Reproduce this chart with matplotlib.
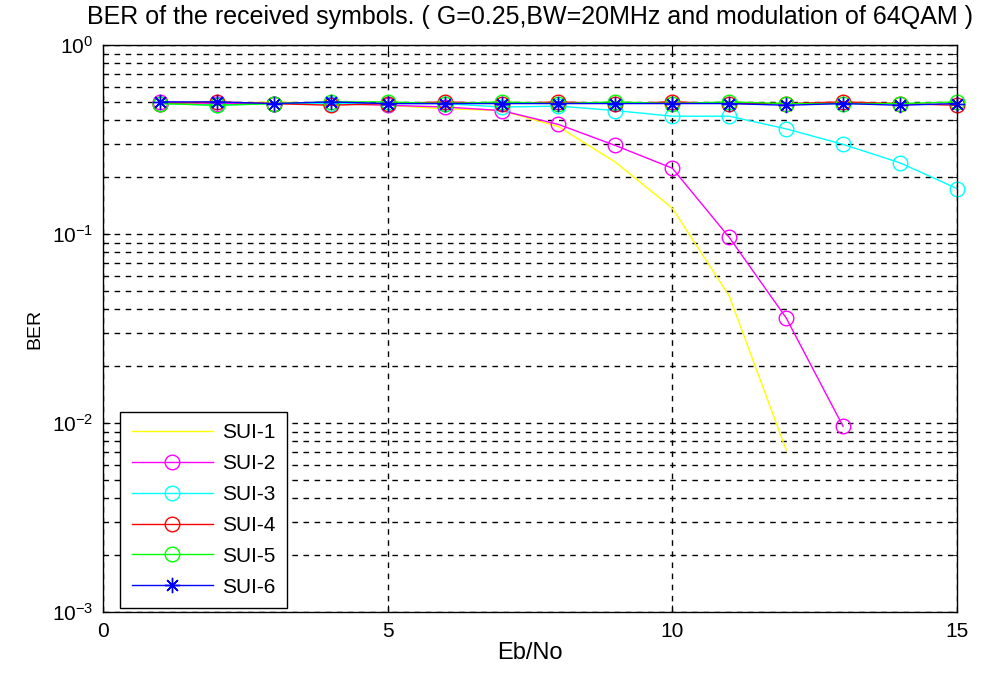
import numpy as np
import matplotlib
matplotlib.use('Agg')
import matplotlib.pyplot as plt
from matplotlib.ticker import LogLocator, NullFormatter

plt.rcParams['font.family'] = ['Liberation Sans', 'DejaVu Sans']
plt.rcParams['mathtext.fontset'] = 'custom'
plt.rcParams['mathtext.rm'] = 'Liberation Sans'

# BER readings per channel model, Eb/No in dB
ebno1 = [1, 2, 3, 4, 5, 6, 7, 8, 9, 10, 11, 12]
sui1 = [0.50, 0.49, 0.50, 0.49, 0.48, 0.46, 0.45, 0.37, 0.24, 0.137, 0.047, 0.0072]

ebno2 = [1, 2, 3, 4, 5, 6, 7, 8, 9, 10, 11, 12, 13]
sui2 = [0.50, 0.49, 0.49, 0.49, 0.48, 0.47, 0.45, 0.38, 0.294, 0.223, 0.096, 0.036, 0.0096]

ebno = [1, 2, 3, 4, 5, 6, 7, 8, 9, 10, 11, 12, 13, 14, 15]
sui3 = [0.49, 0.48, 0.49, 0.49, 0.49, 0.49, 0.47, 0.475, 0.45, 0.42, 0.42, 0.36, 0.298, 0.238, 0.174]
sui4 = [0.49, 0.50, 0.49, 0.48, 0.49, 0.50, 0.49, 0.50, 0.49, 0.50, 0.49, 0.49, 0.50, 0.49, 0.48]
sui5 = [0.49, 0.48, 0.49, 0.50, 0.50, 0.49, 0.50, 0.49, 0.50, 0.49, 0.50, 0.49, 0.49, 0.49, 0.50]
sui6 = [0.50, 0.50, 0.49, 0.50, 0.49, 0.49, 0.49, 0.49, 0.49, 0.49, 0.49, 0.48, 0.49, 0.48, 0.49]

fig = plt.figure(figsize=(9.86, 6.79), dpi=100)
ax = fig.add_axes([0.1045, 0.0987, 0.866, 0.835])

mk = dict(markersize=10.5, markerfacecolor='none', markeredgewidth=1.0, linewidth=1.0,
          clip_on=False)
ax.semilogy(ebno1, sui1, color='#ffff00', linewidth=1.0, label='SUI-1')
ax.semilogy(ebno2, sui2, 'o-', color='#ff00ff', label='SUI-2', **mk)
ax.semilogy(ebno, sui3, 'o-', color='#00ffff', label='SUI-3', **mk)
ax.semilogy(ebno, sui4, 'o-', color='#ff0000', label='SUI-4', **mk)
ax.semilogy(ebno, sui5, 'o-', color='#00ff00', label='SUI-5', **mk)
ax.semilogy(ebno, sui6, '-', color='#0000ff', label='SUI-6', marker=(8, 2, 0),
            markersize=11, markeredgewidth=1.0, linewidth=1.0, clip_on=False)

ax.set_xlim(0, 15)
ax.set_ylim(1e-3, 1)
ax.set_xticks([0, 5, 10, 15])
ax.yaxis.set_major_locator(LogLocator(base=10, numticks=10))
ax.yaxis.set_minor_locator(LogLocator(base=10, subs=np.arange(2, 10), numticks=10))
ax.yaxis.set_minor_formatter(NullFormatter())

ax.grid(True, which='major', axis='both', color='black', linestyle=(0, (4, 4)), linewidth=1.0)
ax.grid(True, which='minor', axis='y', color='black', linestyle=(0, (4, 4)), linewidth=1.0)
ax.tick_params(which='both', direction='in', labelsize=15, top=True, right=True)
ax.tick_params(which='major', length=5, pad=7)
ax.tick_params(which='minor', length=3)
for s in ax.spines.values():
    s.set_linewidth(1.0)

ax.set_xlabel('Eb/No', fontsize=17, labelpad=1)
ax.set_ylabel('BER', fontsize=14, labelpad=6)
ax.set_title('BER of the received symbols. ( G=0.25,BW=20MHz and modulation of 64QAM )',
             fontsize=18, pad=15)

leg = ax.legend(loc='lower left', bbox_to_anchor=(0.02, 0.007), borderaxespad=0,
                fontsize=15, handlelength=3.9, handletextpad=0.45, borderpad=0.55,
                fancybox=False, edgecolor='black', framealpha=1, labelspacing=0.57)
leg.get_frame().set_linewidth(1.0)

fig.savefig('out.png', dpi=100)
